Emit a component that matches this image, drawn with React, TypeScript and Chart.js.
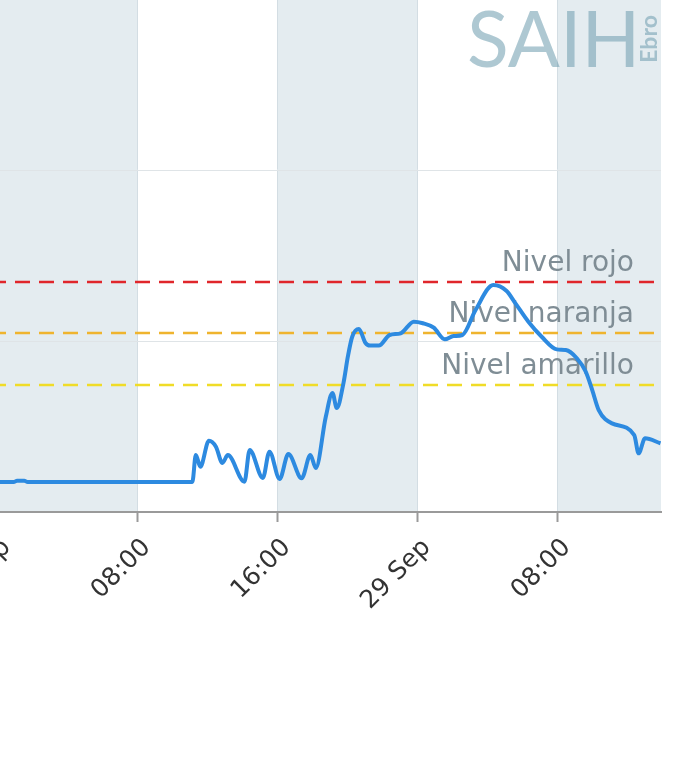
import React, { useEffect, useRef } from "react";
import { Chart, registerables } from "chart.js";

Chart.register(...registerables);

// Hours since 28 Sep 00:00
const hours = [
  -10, 0.9, 1.1, 1.5, 1.7, 11.11, 11.31, 11.57, 12.06, 12.46, 12.83, 13.14, 14.09, 14.39,
  15.14, 15.52, 16.1, 16.6, 17.36, 17.86, 18.17, 18.74, 19.12, 19.37, 19.75, 20.0,
  20.25, 20.63, 21.01, 21.26, 21.77, 22.39, 23.02, 23.77, 24.29, 24.91, 25.54, 26.04,
  26.55, 27.3, 28.31, 29.06, 29.57, 30.32, 31.08, 31.94, 32.46, 33.09, 33.6, 33.97,
  34.34, 35.1, 36.37, 36.62, 36.99, 37.87,
];
// River level (m)
const levels = [
  0.175, 0.175, 0.183, 0.183, 0.175, 0.175, 0.333, 0.265, 0.417, 0.382, 0.287, 0.333, 0.177, 0.363,
  0.199, 0.353, 0.193, 0.339, 0.197, 0.333, 0.257, 0.557, 0.696, 0.608, 0.754, 0.908,
  1.025, 1.07, 0.988, 0.973, 0.973, 1.035, 1.045, 1.113, 1.104, 1.078, 1.01, 1.029,
  1.035, 1.181, 1.327, 1.294, 1.222, 1.113, 1.025, 0.951, 0.947, 0.899, 0.82, 0.713,
  0.596, 0.518, 0.45, 0.343, 0.431, 0.402,
];

const tickHours = [-8, 0, 8, 16, 24, 32];
const tickLabels = ["16:00", "28 Sep", "08:00", "16:00", "29 Sep", "08:00"];
const yTicks = [0, 1, 2, 3, 4];
const bandStarts = [-16, 0, 16, 32];
const BAND_WIDTH = 8;

const thresholdNames = ["Nivel rojo", "Nivel naranja", "Nivel amarillo"];
const thresholdValues = [1.345, 1.047, 0.743];
const thresholdColors = ["#e0262b", "#efb42e", "#f0dc28"];

const X_MIN = -10;
const X_MAX = 37.9;
const Y_MIN = 0;
const Y_MAX = 4;

const backgroundPlugin = {
  id: "bgBands",
  beforeDraw(chart: any) {
    const { ctx, chartArea, scales } = chart;
    ctx.save();
    ctx.fillStyle = "#ffffff";
    ctx.fillRect(0, 0, chart.width, chart.height);
    ctx.fillStyle = "#e4ecf0";
    for (const s of bandStarts) {
      let x1 = scales.x.getPixelForValue(s);
      let x2 = scales.x.getPixelForValue(s + BAND_WIDTH);
      x1 = Math.max(x1, chartArea.left);
      x2 = Math.min(x2, chartArea.right);
      if (x2 > x1) ctx.fillRect(x1, chartArea.top, x2 - x1, chartArea.bottom - chartArea.top);
    }
    ctx.restore();
  },
};

const overlayPlugin = {
  id: "overlay",
  beforeDatasetsDraw(chart: any) {
    const { ctx, chartArea, scales } = chart;
    ctx.save();
    // logo
    ctx.fillStyle = "rgba(115,160,178,0.58)";
    ctx.font = "400 77px Lato";
    ctx.textAlign = "left";
    ctx.textBaseline = "alphabetic";
    const logoX = chartArea.right - 194;
    const logoBase = scales.y.getPixelForValue(Y_MAX) + 67 + 172;
    ctx.fillText("SAIH", logoX, logoBase);
    ctx.save();
    ctx.translate(chartArea.right - 11, logoBase - 28);
    ctx.rotate(-Math.PI / 2);
    ctx.font = "bold 23px Lato";
    ctx.textAlign = "center";
    ctx.textBaseline = "middle";
    ctx.fillText("Ebro", 0, 0);
    ctx.restore();

    // threshold lines
    thresholdValues.forEach((v, i) => {
      const y = scales.y.getPixelForValue(v);
      ctx.beginPath();
      ctx.setLineDash([15, 9]);
      ctx.lineWidth = 2.5;
      ctx.strokeStyle = thresholdColors[i];
      ctx.moveTo(chartArea.left, y);
      ctx.lineTo(chartArea.right, y);
      ctx.stroke();
      ctx.setLineDash([]);
      ctx.fillStyle = "#7f8d95";
      ctx.font = "28px 'DejaVu Sans'";
      ctx.textAlign = "right";
      ctx.textBaseline = "alphabetic";
      ctx.fillText(thresholdNames[i], chartArea.right - 27, y - 11);
    });
    ctx.restore();
  },
};

export default function App() {
  const ref = useRef<HTMLCanvasElement | null>(null);
  useEffect(() => {
    if (!ref.current) return;
    const chart = new Chart(ref.current, {
      type: "line",
      data: {
        datasets: [
          {
            data: hours.map((h, i) => ({ x: h, y: levels[i] })),
            borderColor: "#2d8ae0",
            borderWidth: 4,
            pointRadius: 0,
            tension: 0.3,
            cubicInterpolationMode: "monotone",
            fill: false,
          },
        ],
      },
      options: {
        responsive: false,
        animation: false,
        devicePixelRatio: 1,
        layout: { padding: { left: 0, right: 29, top: 0, bottom: 0 } },
        plugins: { legend: { display: false }, tooltip: { enabled: false } },
        scales: {
          x: {
            type: "linear",
            min: X_MIN,
            max: X_MAX,
            afterBuildTicks: (s: any) => {
              s.ticks = tickHours.map((v) => ({ value: v }));
            },
            afterFit: (s: any) => {
              s.height = 200;
              s.paddingLeft = 0;
              s.paddingRight = 0;
            },
            grid: {
              color: "#d3dde3",
              lineWidth: 1,
              drawTicks: true,
              tickLength: 10,
              tickColor: "#9a9a9a",
              tickWidth: 2,
            },
            border: { display: true, color: "#9a9a9a", width: 2 },
            ticks: {
              autoSkip: false,
              minRotation: 45,
              maxRotation: 45,
              padding: 11,
              labelOffset: 9,
              color: "#333333",
              font: { family: "DejaVu Sans", size: 25 },
              callback: (_v: any, i: number) => tickLabels[i],
            },
          },
          y: {
            type: "linear",
            min: Y_MIN,
            max: Y_MAX,
            afterBuildTicks: (s: any) => {
              s.ticks = yTicks.map((v) => ({ value: v }));
            },
            afterFit: (s: any) => {
              s.width = 0;
              s.paddingTop = 0;
              s.paddingBottom = 0;
            },
            grid: { color: "#dfe4e7", lineWidth: 1, drawTicks: false },
            border: { display: false },
            ticks: { display: false },
          },
        },
      } as any,
      plugins: [backgroundPlugin, overlayPlugin],
    });
    return () => chart.destroy();
  }, []);
  return (
    <canvas
      ref={ref}
      width={867}
      height={884}
      style={{ position: "absolute", left: -177, top: -172, width: 867, height: 884 }}
    />
  );
}
